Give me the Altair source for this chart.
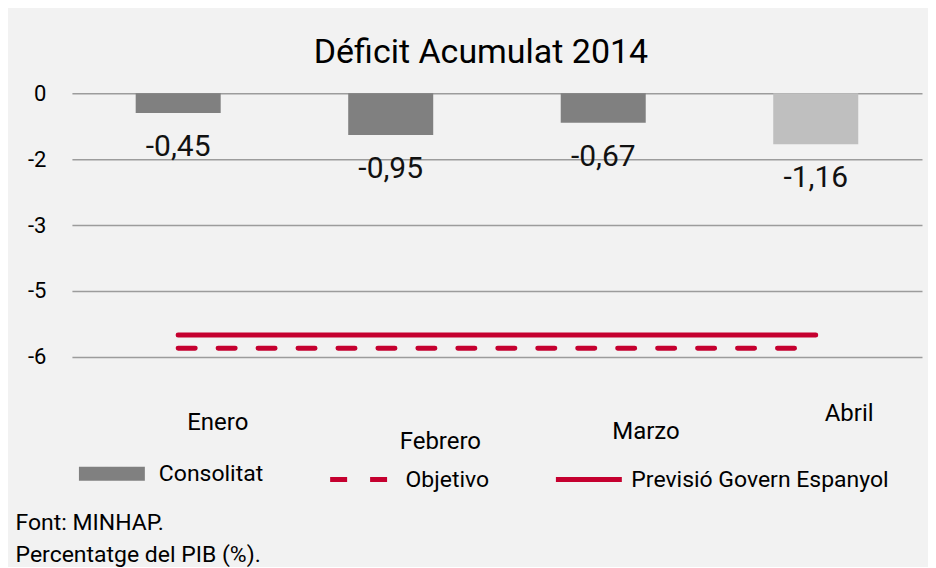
import altair as alt
import pandas as pd

# ---- data ----
meses = ["Enero", "Febrero", "Marzo", "Abril"]
consolitat = [-0.45, -0.95, -0.67, -1.16]
objetivo = [-5.8, -5.8, -5.8, -5.8]
prevision = [-5.5, -5.5, -5.5, -5.5]
series = ["Consolitat", "Objetivo", "Previsió Govern Espanyol"]
y_ticks = [0, -1.5, -3, -4.5, -6]
y_labels = ["0", "-2", "-3", "-5", "-6"]
titulo = "Déficit Acumulat 2014"
nota = ["Font: MINHAP.", "Percentatge del PIB (%)."]

bars_df = pd.DataFrame({"mes": meses, "valor": consolitat})
lines_df = pd.DataFrame({
    "mes": meses + meses,
    "valor": objetivo + prevision,
    "serie": [series[1]] * len(meses) + [series[2]] * len(meses),
})

GRAY = "#808080"
LIGHT = "#bfbfbf"
RED = "#c5002f"
FONT = "Roboto"

label_expr = "[{}][indexof([{}], datum.value)]".format(
    ",".join("'%s'" % s for s in y_labels), ",".join(str(v) for v in y_ticks)
)

x_enc = alt.X(
    "mes:N", sort=meses, title=None,
    scale=alt.Scale(paddingInner=0.6, paddingOuter=0.3),
    axis=alt.Axis(
        domain=False, ticks=False, grid=False, labelAngle=0,
        labelAlign="left", labelOffset=9, labelBaseline="middle",
        labelFontSize=24, labelColor="#000000", labelFont=FONT,
        labelPadding={
            "condition": [
                {"test": "datum.value === 'Enero'", "value": 66},
                {"test": "datum.value === 'Febrero'", "value": 85},
                {"test": "datum.value === 'Marzo'", "value": 75},
            ],
            "value": 57,
        },
    ),
)
y_enc = alt.Y(
    "valor:Q", title=None,
    scale=alt.Scale(domain=[-6, 0], nice=False),
    axis=alt.Axis(
        values=y_ticks, labelExpr=label_expr, domain=False, ticks=False,
        grid=True, gridColor="#9c9c9c", gridWidth=1.5,
        labelFontSize=22, labelPadding=26, labelColor="#000000", labelFont=FONT,
    ),
)

bars = alt.Chart(bars_df).mark_bar().encode(
    x=x_enc, y=y_enc,
    color=alt.condition("datum.mes === 'Abril'", alt.value(LIGHT), alt.value(GRAY)),
)

texts = alt.Chart(bars_df).transform_calculate(
    lbl="'-' + replace(format(abs(datum.valor), '.2f'), '.', ',')"
).mark_text(dy=34, fontSize=30, baseline="middle", color="#111111", font=FONT).encode(
    x=x_enc, y=y_enc, text="lbl:N"
)

leg = alt.Legend(
    orient="bottom", direction="horizontal", title=None, symbolType="stroke",
    symbolSize=4356, labelFontSize=23, labelOffset=7, columnPadding=56,
    labelColor="#000000", labelLimit=400, offset=-20, labelFont=FONT,
)

lines = alt.Chart(lines_df).mark_line(strokeCap="round").encode(
    x=x_enc, y=y_enc,
    stroke=alt.Stroke("serie:N", scale=alt.Scale(domain=series, range=[GRAY, RED, RED]), legend=leg),
    strokeDash=alt.StrokeDash("serie:N", scale=alt.Scale(domain=series, range=[[1, 0], [17, 23], [1, 0]]), legend=leg),
    strokeWidth=alt.StrokeWidth("serie:N", scale=alt.Scale(domain=series, range=[14, 5, 5], type="ordinal"), legend=leg),
)

inner = alt.layer(bars, texts, lines).properties(
    width=851, height=264,
    title=alt.TitleParams(titulo, anchor="middle", fontSize=34, font=FONT, dx=-16,
                          fontWeight="normal", color="#000000", offset=12),
)

chart = alt.vconcat(inner).properties(
    title=alt.TitleParams(nota, orient="bottom", anchor="start", fontSize=23, lineHeight=32,
                          font=FONT, fontWeight="normal", color="#000000", offset=10, dx=-12),
).configure(
    background="#f2f2f2", font=FONT, padding={"top": 28, "left": 7, "right": 6, "bottom": 0}
).configure_view(stroke=None)

chart.save("out.html", embed_options={"renderer": "svg", "actions": False})
